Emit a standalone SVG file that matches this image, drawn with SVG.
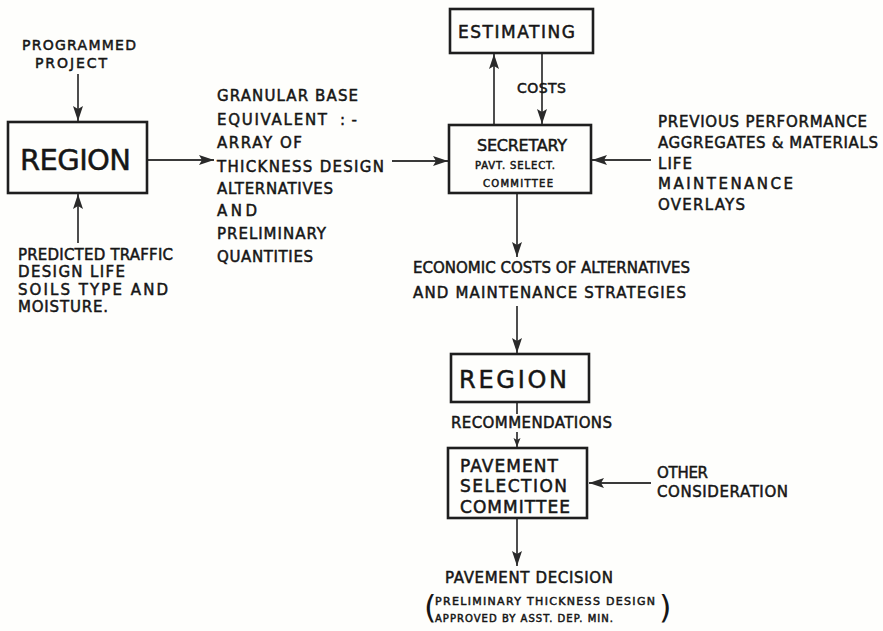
<svg xmlns="http://www.w3.org/2000/svg" width="883" height="631" viewBox="0 0 883 631">
  <style>
    text { font-family: "DejaVu Sans", "Liberation Sans", sans-serif; font-weight: 400; fill: #161616; stroke: #161616; stroke-width: 0.5; }
    .box { fill: none; stroke: #1e1e1e; stroke-width: 2.6; }
    .link { fill: none; stroke: #3a3a3a; stroke-width: 1.8; }
    .s14 { font-size: 14px; }
    .s15 { font-size: 15px; }
    .paren { font-size: 32px; stroke-width: 0; }
  </style>
  <defs>
    <marker id="arrow" markerUnits="userSpaceOnUse" markerWidth="16" markerHeight="12" refX="15" refY="6" orient="auto">
      <path d="M0,1 L15,6 L0,11 L3,6 Z" fill="#2a2a2a"/>
    </marker>
    <marker id="arrowSmall" markerUnits="userSpaceOnUse" markerWidth="10" markerHeight="8" refX="9" refY="4" orient="auto">
      <path d="M0,0.5 L9,4 L0,7.5 L2,4 Z" fill="#2a2a2a"/>
    </marker>
  </defs>
  <rect width="883" height="631" fill="#fefefc"/>

  <!-- connectors -->
  <g id="connectors">
    <line class="link" x1="78" y1="74" x2="78" y2="121" marker-end="url(#arrow)"/>
    <line class="link" x1="78" y1="243" x2="78" y2="194" marker-end="url(#arrow)"/>
    <line class="link" x1="148" y1="160" x2="214" y2="160" marker-end="url(#arrow)"/>
    <line class="link" x1="392" y1="161" x2="448" y2="161" marker-end="url(#arrow)"/>
    <line class="link" x1="494" y1="125" x2="494" y2="54" marker-end="url(#arrow)"/>
    <line class="link" x1="542" y1="53" x2="542" y2="124" marker-end="url(#arrow)"/>
    <line class="link" x1="651" y1="160" x2="592" y2="160" marker-end="url(#arrow)"/>
    <line class="link" x1="517" y1="193" x2="517" y2="257" marker-end="url(#arrow)"/>
    <line class="link" x1="517" y1="306" x2="517" y2="353" marker-end="url(#arrow)"/>
    <line class="link" x1="517" y1="402" x2="517" y2="414"/>
    <line class="link" x1="517" y1="432" x2="517" y2="447" marker-end="url(#arrowSmall)"/>
    <line class="link" x1="651" y1="483" x2="589" y2="483" marker-end="url(#arrow)"/>
    <line class="link" x1="517" y1="518" x2="517" y2="566" marker-end="url(#arrow)"/>
  </g>

  <!-- inputs to the first region -->
  <g id="programmed-project">
    <text class="s14" x="22" y="50" textLength="114" lengthAdjust="spacing">PROGRAMMED</text>
    <text class="s14" x="35" y="68" textLength="72" lengthAdjust="spacing">PROJECT</text>
  </g>

  <g id="region-1">
    <rect class="box" x="8" y="122" width="139" height="71"/>
    <text x="20" y="170" font-size="29" textLength="111" lengthAdjust="spacing">REGION</text>
  </g>

  <g id="traffic-inputs">
    <text class="s15" x="18" y="260" textLength="155" lengthAdjust="spacing">PREDICTED TRAFFIC</text>
    <text class="s15" x="18" y="277" textLength="107" lengthAdjust="spacing">DESIGN LIFE</text>
    <text class="s15" x="18" y="295" textLength="150" lengthAdjust="spacing">SOILS TYPE AND</text>
    <text class="s15" x="18" y="312" textLength="90" lengthAdjust="spacing">MOISTURE.</text>
  </g>

  <g id="granular-base">
    <text class="s15" x="217" y="101" textLength="141" lengthAdjust="spacing">GRANULAR BASE</text>
    <text class="s15" x="217" y="125" textLength="110" lengthAdjust="spacing">EQUIVALENT</text>
    <text class="s15" x="340" y="125" textLength="17" lengthAdjust="spacing">:-</text>
    <text class="s15" x="217" y="148" textLength="85" lengthAdjust="spacing">ARRAY OF</text>
    <text class="s15" x="217" y="172" textLength="167" lengthAdjust="spacing">THICKNESS DESIGN</text>
    <text class="s15" x="217" y="194" textLength="116" lengthAdjust="spacing">ALTERNATIVES</text>
    <text class="s15" x="217" y="216" textLength="40" lengthAdjust="spacing">AND</text>
    <text class="s15" x="217" y="239" textLength="109" lengthAdjust="spacing">PRELIMINARY</text>
    <text class="s15" x="217" y="262" textLength="96" lengthAdjust="spacing">QUANTITIES</text>
  </g>

  <g id="estimating">
    <rect class="box" x="450" y="9" width="143" height="44"/>
    <text x="458" y="38" font-size="17" textLength="117" lengthAdjust="spacing">ESTIMATING</text>
  </g>

  <g id="costs-label">
    <text class="s14" x="517" y="93" textLength="49" lengthAdjust="spacing">COSTS</text>
  </g>

  <g id="secretary">
    <rect class="box" x="449" y="125" width="142" height="68"/>
    <text x="477" y="151" font-size="16" textLength="90" lengthAdjust="spacing">SECRETARY</text>
    <text x="475" y="169" font-size="10" textLength="80" lengthAdjust="spacing">PAVT. SELECT.</text>
    <text x="483" y="187" font-size="10" textLength="70" lengthAdjust="spacing">COMMITTEE</text>
  </g>

  <g id="performance-inputs">
    <text class="s15" x="658" y="127" textLength="209" lengthAdjust="spacing">PREVIOUS PERFORMANCE</text>
    <text class="s15" x="658" y="148" textLength="220" lengthAdjust="spacing">AGGREGATES &amp; MATERIALS</text>
    <text class="s15" x="658" y="169" textLength="34" lengthAdjust="spacing">LIFE</text>
    <text class="s15" x="658" y="189" textLength="135" lengthAdjust="spacing">MAINTENANCE</text>
    <text class="s15" x="658" y="210" textLength="87" lengthAdjust="spacing">OVERLAYS</text>
  </g>

  <g id="economic-costs">
    <text class="s15" x="413" y="273" textLength="277" lengthAdjust="spacing">ECONOMIC COSTS OF ALTERNATIVES</text>
    <text class="s15" x="413" y="298" textLength="273" lengthAdjust="spacing">AND  MAINTENANCE STRATEGIES</text>
  </g>

  <g id="region-2">
    <rect class="box" x="451" y="354" width="138" height="48"/>
    <text x="459" y="388" font-size="24" textLength="108" lengthAdjust="spacing">REGION</text>
  </g>

  <g id="recommendations-label">
    <text class="s15" x="451" y="428" textLength="161" lengthAdjust="spacing">RECOMMENDATIONS</text>
  </g>

  <g id="pavement-selection-committee">
    <rect class="box" x="448" y="448" width="139" height="70"/>
    <text x="460" y="472" font-size="17" textLength="98" lengthAdjust="spacing">PAVEMENT</text>
    <text x="460" y="492" font-size="17" textLength="107" lengthAdjust="spacing">SELECTION</text>
    <text x="460" y="513" font-size="17" textLength="110" lengthAdjust="spacing">COMMITTEE</text>
  </g>

  <g id="other-consideration">
    <text class="s15" x="657" y="478" textLength="51" lengthAdjust="spacing">OTHER</text>
    <text class="s15" x="657" y="497" textLength="131" lengthAdjust="spacing">CONSIDERATION</text>
  </g>

  <g id="pavement-decision">
    <text x="445" y="583" font-size="15" stroke-width="0.2" textLength="168" lengthAdjust="spacing">PAVEMENT DECISION</text>
    <text class="paren" x="424" y="618">(</text>
    <text x="435" y="605" font-size="11" textLength="220" lengthAdjust="spacing">PRELIMINARY THICKNESS DESIGN</text>
    <text x="435" y="622" font-size="10" textLength="178" lengthAdjust="spacing">APPROVED BY ASST. DEP. MIN.</text>
    <text class="paren" x="659" y="618">)</text>
  </g>
</svg>
